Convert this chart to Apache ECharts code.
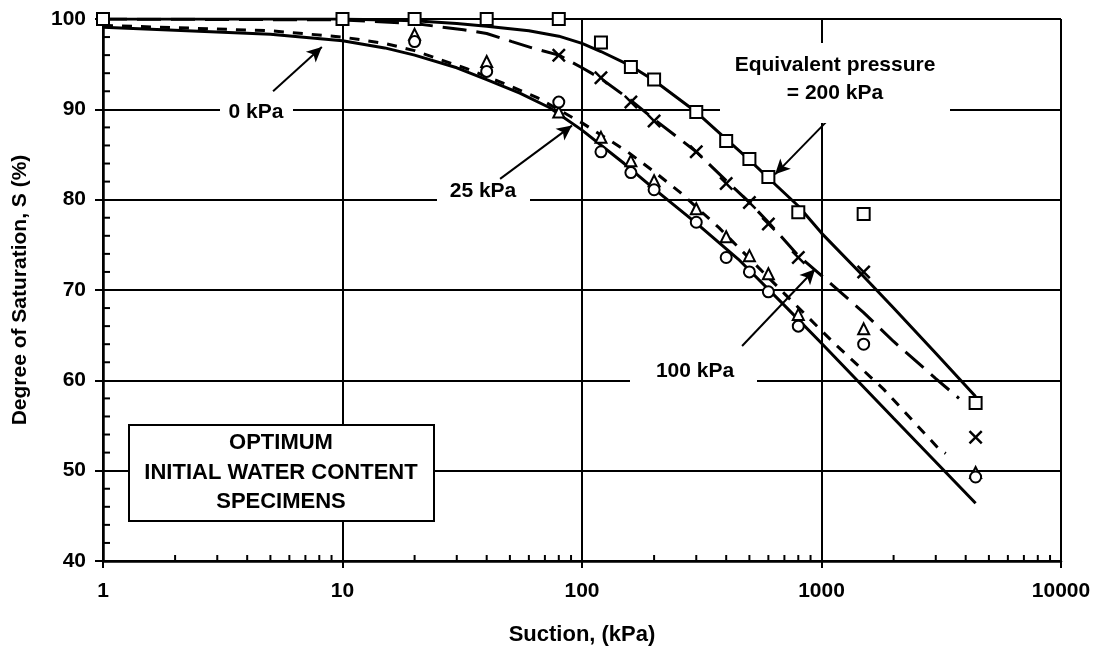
<!DOCTYPE html>
<html><head><meta charset="utf-8">
<script src="https://cdn.jsdelivr.net/npm/echarts@6/dist/echarts.min.js"></script>
<style>html,body{margin:0;padding:0;background:#fff}#c{width:1107px;height:651px}</style>
</head><body><div id="c"></div>
<script>
// ---- axis ticks ----
const xTickLabels = ['1', '10', '100', '1000', '10000'];
const yTickLabels = [40, 50, 60, 70, 80, 90, 100];
const xMinorTicks = [2,3,4,5,6,7,8,9,20,30,40,50,60,70,80,90,200,300,400,500,600,700,800,900,2000,3000,4000,5000,6000,7000,8000,9000];
const yMinorTicks = [42,44,46,48,52,54,56,58,62,64,66,68,72,74,76,78,82,84,86,88,92,94,96,98];

// ---- measured points (suction kPa, degree of saturation %) ----
const squareX = [1,10,20,40,80,120,160,200,300,400,500,600,800,1500,4400];
const squareY = [100,100,100,100,100,97.4,94.7,93.3,89.7,86.5,84.5,82.5,78.6,78.4,57.5];
const crossX = [80,120,160,200,300,400,500,600,800,1500,4400];
const crossY = [96.0,93.5,90.8,88.7,85.3,81.8,79.7,77.3,73.6,72.0,53.7];
const triangleX = [20,40,80,120,160,200,300,400,500,600,800,1500,4400];
const triangleY = [98.3,95.3,89.7,86.9,84.3,82.1,79.0,75.9,73.8,71.8,67.3,65.7,49.8];
const circleX = [20,40,80,120,160,200,300,400,500,600,800,1500,4400];
const circleY = [97.5,94.2,90.8,85.3,83.0,81.1,77.5,73.6,72.0,69.8,66.0,64.0,49.3];

// ---- fitted curves ----
const fit200X = [1,10,20,30,40,60,80,100,120,160,200,300,400,500,600,800,1000,1500,2000,3000,4400];
const fit200Y = [100,100,99.8,99.5,99.2,98.7,98.1,97.3,96.4,94.8,93.2,89.7,86.7,84.4,82.4,79.3,76.3,71.5,68.0,63.0,58.2];
const fit100X = [1,10,20,32,40,51,62,80,100,120,160,200,300,400,500,600,800,1000,1500,2000,3000,3750];
const fit100Y = [100,99.9,99.5,98.8,98.4,97.5,96.8,96.0,94.6,93.4,91.0,88.9,85.3,82.1,79.7,77.5,73.8,71.6,67.5,64.3,60.2,58.0];
const fit25X = [1,5,10,15,20,25,33,51,65,100,153,200,257,373,500,700,1140,1820,3070,3300];
const fit25Y = [99.3,98.7,98.0,97.3,96.5,95.6,94.5,92.5,91.3,88.5,85.4,83.1,80.8,76.9,73.5,69.6,64.0,59.0,52.5,51.9];
const fit0X = [1,5,10,15,20,30,40,55,73,100,150,200,300,450,700,1000,2000,4400];
const fit0Y = [99.1,98.3,97.6,96.8,96.0,94.6,93.3,91.8,90.2,87.7,84.0,81.2,77.4,73.4,68.3,64.1,55.8,46.4];

const zip = (xs, ys) => xs.map((x, i) => [x, ys[i]]);
const FONT = 'Liberation Sans';

const crossPath = 'path://M0,2.5 L2.5,0 L10,7.5 L17.5,0 L20,2.5 L12.5,10 L20,17.5 L17.5,20 L10,12.5 L2.5,20 L0,17.5 L7.5,10 Z';

function arrow(from, to) {
  return [{coord: from, symbol: 'none'}, {coord: to, symbol: 'arrow', symbolSize: [11, 15]}];
}

const chart = echarts.init(document.getElementById('c'), null, {renderer: 'canvas'});

const lineBase = {type: 'line', showSymbol: false, symbol: 'none', smooth: false, silent: true, z: 3};
const scatterBase = {type: 'scatter', silent: true, z: 5,
  itemStyle: {color: '#fff', borderColor: '#000', borderWidth: 2, opacity: 1}};

chart.setOption({
  animation: false,
  backgroundColor: '#fff',
  grid: {left: 103, right: 46, top: 19, bottom: 89, containLabel: false},
  xAxis: {
    type: 'log', logBase: 10, min: 1, max: 10000,
    name: 'Suction, (kPa)', nameLocation: 'middle', nameGap: 63,
    nameTextStyle: {fontFamily: FONT, fontWeight: 'bold', fontSize: 22, color: '#000'},
    axisLine: {show: true, lineStyle: {color: '#000', width: 2.5}},
    axisTick: {show: true, length: 7, inside: false, lineStyle: {color: '#000', width: 2}},
    minorTick: {show: false},
    axisLabel: {fontFamily: FONT, fontWeight: 'bold', fontSize: 21, color: '#000', margin: 20,
      formatter: v => { const i = Math.round(Math.log10(v)); return xTickLabels[i] !== undefined ? xTickLabels[i] : ''; }},
    splitLine: {show: true, lineStyle: {color: '#000', width: 2}}
  },
  yAxis: {
    type: 'value', min: 40, max: 100, interval: 10,
    name: 'Degree of Saturation, S (%)', nameLocation: 'middle', nameGap: 72,
    nameTextStyle: {fontFamily: FONT, fontWeight: 'bold', fontSize: 21, color: '#000'},
    axisLine: {show: true, lineStyle: {color: '#000', width: 2.5}},
    axisTick: {show: true, length: 8, inside: false, lineStyle: {color: '#000', width: 2}},
    axisLabel: {fontFamily: FONT, fontWeight: 'bold', fontSize: 21, color: '#000', margin: 17,
      formatter: v => yTickLabels.includes(v) ? String(v) : ''},
    splitLine: {show: true, lineStyle: {color: '#000', width: 2}}
  },
  series: [
    {...lineBase, name: 'fit200', data: zip(fit200X, fit200Y), lineStyle: {color: '#000', width: 3, type: 'solid'},
      markLine: {silent: true, animation: false, label: {show: false},
        lineStyle: {color: '#000', width: 2, type: 'solid'},
        data: [
          arrow([5.13, 92.0], [8.2, 96.9]),
          arrow([45.5, 82.3], [90.8, 88.2]),
          arrow([466, 63.8], [940, 72.3]),
          arrow([1054, 88.7], [640, 82.8])
        ]}},
    {...lineBase, name: 'fit100', data: zip(fit100X, fit100Y), lineStyle: {color: '#000', width: 3, type: [24, 10]}},
    {...lineBase, name: 'fit25', data: zip(fit25X, fit25Y), lineStyle: {color: '#000', width: 3, type: [10, 9]}},
    {...lineBase, name: 'fit0', data: zip(fit0X, fit0Y), lineStyle: {color: '#000', width: 3, type: 'solid'}},
    {...scatterBase, name: 'squares', symbol: 'rect', symbolSize: 12, data: zip(squareX, squareY)},
    {...scatterBase, name: 'triangles', symbol: 'triangle', symbolSize: 11, data: zip(triangleX, triangleY)},
    {...scatterBase, name: 'circles', symbol: 'circle', symbolSize: 11, data: zip(circleX, circleY)},
    {type: 'scatter', name: 'crosses', silent: true, z: 5, symbol: crossPath, symbolSize: 14,
      itemStyle: {color: '#000', opacity: 1}, data: zip(crossX, crossY)},
    {type: 'custom', name: 'xMinor', silent: true, clip: false, z: 4,
      data: xMinorTicks.map(v => [v, 40]),
      renderItem: (params, api) => {
        const p = api.coord([api.value(0), api.value(1)]);
        return {type: 'line', shape: {x1: p[0], y1: p[1], x2: p[0], y2: p[1] - 6}, style: {stroke: '#000', lineWidth: 2}};
      }},
    {type: 'custom', name: 'yMinor', silent: true, clip: false, z: 4,
      data: yMinorTicks.map(v => [1, v]),
      renderItem: (params, api) => {
        const p = api.coord([api.value(0), api.value(1)]);
        return {type: 'line', shape: {x1: p[0], y1: p[1], x2: p[0] + 7, y2: p[1]}, style: {stroke: '#000', lineWidth: 2}};
      }}
  ],
  graphic: [
    {type: 'rect', z: 50, shape: {x: 220, y: 100, width: 73, height: 24}, style: {fill: '#fff'}},
    {type: 'text', z: 51, x: 256, y: 112, style: {text: '0 kPa', font: 'bold 21px ' + FONT, fill: '#000', align: 'center', verticalAlign: 'middle'}},
    {type: 'rect', z: 50, shape: {x: 437, y: 180, width: 93, height: 25}, style: {fill: '#fff'}},
    {type: 'text', z: 51, x: 483, y: 191, style: {text: '25 kPa', font: 'bold 21px ' + FONT, fill: '#000', align: 'center', verticalAlign: 'middle'}},
    {type: 'rect', z: 50, shape: {x: 630, y: 358, width: 127, height: 32}, style: {fill: '#fff'}},
    {type: 'text', z: 51, x: 695, y: 371, style: {text: '100 kPa', font: 'bold 21px ' + FONT, fill: '#000', align: 'center', verticalAlign: 'middle'}},
    {type: 'rect', z: 50, shape: {x: 720, y: 43, width: 230, height: 80}, style: {fill: '#fff'}},
    {type: 'text', z: 51, x: 835, y: 65, style: {text: 'Equivalent pressure', font: 'bold 21px ' + FONT, fill: '#000', align: 'center', verticalAlign: 'middle'}},
    {type: 'text', z: 51, x: 835, y: 93, style: {text: '= 200 kPa', font: 'bold 21px ' + FONT, fill: '#000', align: 'center', verticalAlign: 'middle'}},
    {type: 'rect', z: 50, shape: {x: 129, y: 425, width: 305, height: 96}, style: {fill: '#fff', stroke: '#000', lineWidth: 2}},
    {type: 'text', z: 51, x: 281, y: 443, style: {text: 'OPTIMUM', font: 'bold 22px ' + FONT, fill: '#000', align: 'center', verticalAlign: 'middle'}},
    {type: 'text', z: 51, x: 281, y: 473, style: {text: 'INITIAL WATER CONTENT', font: 'bold 22px ' + FONT, fill: '#000', align: 'center', verticalAlign: 'middle'}},
    {type: 'text', z: 51, x: 281, y: 502, style: {text: 'SPECIMENS', font: 'bold 22px ' + FONT, fill: '#000', align: 'center', verticalAlign: 'middle'}}
  ]
});
</script>
</body></html>
